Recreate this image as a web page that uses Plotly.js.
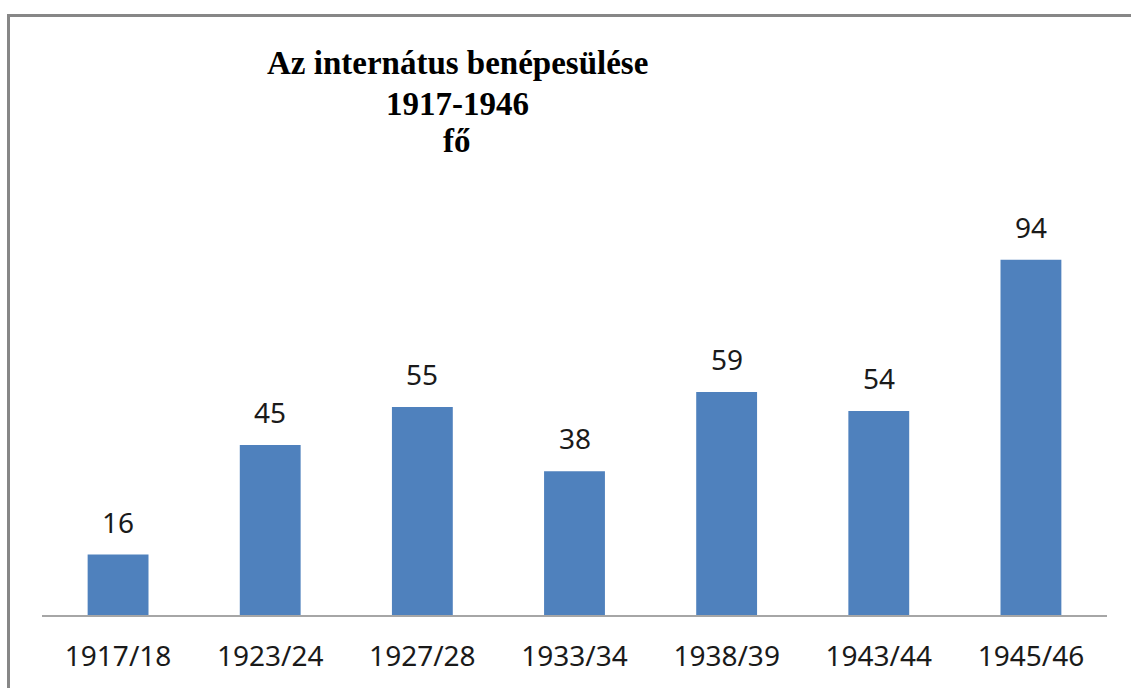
<!DOCTYPE html>
<html>
<head>
<meta charset="utf-8">
<script src="https://cdn.plot.ly/plotly-3.0.1.min.js"></script>
<style>html,body{margin:0;padding:0;background:#fff;overflow:hidden}</style>
</head>
<body>
<div id="chart" style="width:1131px;height:688px"></div>
<script>
const categories = ["1917/18", "1923/24", "1927/28", "1933/34", "1938/39", "1943/44", "1945/46"];
const values = [16, 45, 55, 38, 59, 54, 94];
const titleLines = ["Az internátus benépesülése", "1917-1946", "fő"];

const W = 1131, H = 688;
const margin = {l: 42, r: 24, t: 237, b: 73};
const pw = W - margin.l - margin.r, ph = H - margin.t - margin.b;
// pixel -> paper helpers (for frame and title placement)
const px2x = p => (p - margin.l) / pw;
const py2y = p => (H - margin.b - p) / ph;

const trace = {
  type: "bar",
  x: categories,
  y: values,
  marker: {color: "#4F81BD"},
  hoverinfo: "skip"
};

const labelFont = {family: "Noto Sans, Open Sans, sans-serif", size: 28, color: "#1a1a1a"};

const valueLabels = categories.map((c, i) => ({
  x: c, y: values[i], xref: "x", yref: "y",
  text: String(values[i]), showarrow: false,
  yanchor: "bottom", yshift: 12,
  font: labelFont
}));

const titleY = [63.5, 104, 140.5];
const titleAnns = titleLines.map((s, i) => ({
  xref: "paper", yref: "paper",
  x: px2x(457), y: py2y(titleY[i]),
  xanchor: "center", yanchor: "middle",
  text: "<b>" + s + "</b>", showarrow: false,
  font: {family: "Liberation Serif, Times New Roman, serif", size: 33, color: "#000"}
}));

const layout = {
  width: W, height: H,
  margin: margin,
  paper_bgcolor: "#ffffff",
  plot_bgcolor: "#ffffff",
  showlegend: false,
  bargap: 0.6,
  xaxis: {
    type: "category",
    showline: true, linecolor: "#a6a6a6", linewidth: 1.5,
    showgrid: false, zeroline: false, ticks: "",
    ticklabelstandoff: 16,
    tickfont: labelFont,
    fixedrange: true
  },
  yaxis: {
    range: [0, 100],
    visible: false, showgrid: false, zeroline: false,
    fixedrange: true
  },
  annotations: titleAnns.concat(valueLabels),
  shapes: [{
    type: "rect", xref: "paper", yref: "paper",
    x0: px2x(8.5), x1: px2x(W + 20), y0: py2y(H + 20), y1: py2y(15.5),
    line: {color: "#878787", width: 3}, fillcolor: "rgba(0,0,0,0)", layer: "below"
  }]
};

Plotly.newPlot("chart", [trace], layout, {displayModeBar: false, staticPlot: true});
</script>
</body>
</html>
